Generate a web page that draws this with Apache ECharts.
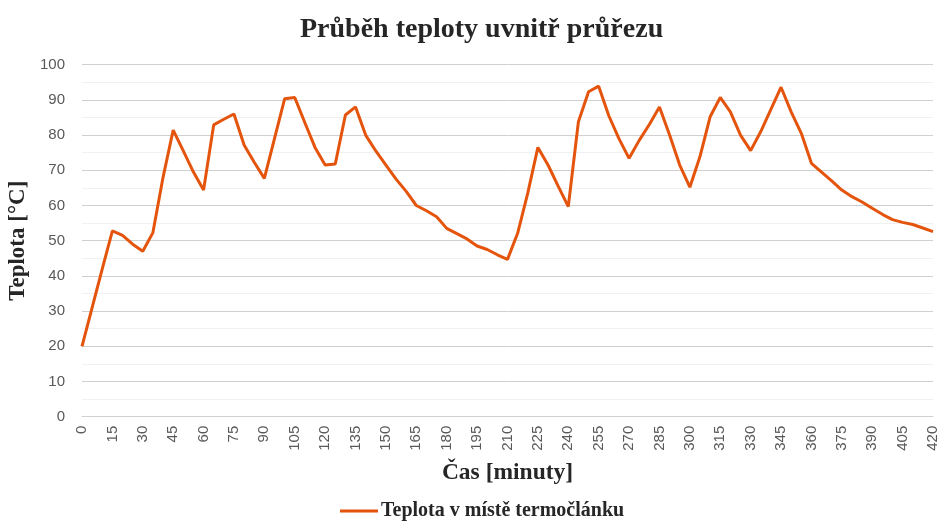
<!DOCTYPE html>
<html>
<head>
<meta charset="utf-8">
<script src="https://cdn.jsdelivr.net/npm/echarts@6/dist/echarts.min.js"></script>
<style>html,body{margin:0;padding:0;background:#fff}#c{width:938px;height:521px}</style>
</head>
<body>
<div id="c"></div>
<script>
const titleText = 'Průběh teploty uvnitř průřezu';
const seriesName = 'Teplota v místě termočlánku';
const minutes = ['0','5','10','15','20','25','30','35','40','45','50','55','60','65','70','75','80','85','90','95',
  '100','105','110','115','120','125','130','135','140','145','150','155','160','165','170','175','180','185','190','195',
  '200','205','210','215','220','225','230','235','240','245','250','255','260','265','270','275','280','285','290','295',
  '300','305','310','315','320','325','330','335','340','345','350','355','360','365','370','375','380','385','390','395',
  '400','405','410','415','420'];
const temps = [20,31,42,52.8,51.5,49,47,52.3,68,81.4,75.5,69.5,64.4,82.9,84.5,86,77.2,72.3,67.7,79,
  90.3,90.7,83.5,76.5,71.5,71.8,85.7,88,80,75.5,71.5,67.5,64,60,58.5,56.8,53.5,52,50.5,48.5,
  47.5,46,44.7,52.1,63.5,76.5,71.5,65.5,59.7,83.8,92.3,93.9,85.5,79,73.4,78.5,83,88,80,71.5,
  65.2,73.9,85.2,90.7,86.6,80,75.6,81,87.3,93.6,86.6,80.5,72,69.5,67,64.4,62.5,61,59.2,57.5,
  56,55.2,54.6,53.6,52.6];
const yTicks = [0,10,20,30,40,50,60,70,80,90,100];

const chart = echarts.init(document.getElementById('c'));
chart.setOption({
  animation: false,
  title: {
    text: titleText, left: 295, top: 11,
    textStyle: {fontFamily: 'Liberation Serif', fontWeight: 'bold', fontSize: 28, color: '#262626'}
  },
  legend: {
    top: 496, left: 335, itemWidth: 38, itemHeight: 3, itemGap: 10,
    icon: 'rect',
    textStyle: {fontFamily: 'Liberation Serif', fontWeight: 'bold', fontSize: 20, color: '#262626', padding: [0, 0, 0, -2]},
    data: [seriesName]
  },
  grid: {left: 82, right: 5, top: 64.7, bottom: 104.3, containLabel: false, outerBoundsMode: 'none'},
  xAxis: {
    type: 'category', data: minutes, boundaryGap: false,
    name: 'Čas [minuty]', nameLocation: 'middle', nameGap: 44,
    nameTextStyle: {fontFamily: 'Liberation Serif', fontWeight: 'bold', fontSize: 23.5, color: '#262626'},
    axisLine: {lineStyle: {color: '#d0d0d0'}},
    axisTick: {show: false},
    axisLabel: {interval: 2, rotate: 90, fontFamily: 'Liberation Sans', fontSize: 15, color: '#595959', margin: 9}
  },
  yAxis: {
    type: 'value', min: yTicks[0], max: yTicks[yTicks.length - 1], interval: 10,
    name: 'Teplota [°C]', nameLocation: 'middle', nameGap: 49, nameRotate: 90,
    nameTextStyle: {fontFamily: 'Liberation Serif', fontWeight: 'bold', fontSize: 23, color: '#262626'},
    axisLine: {show: false}, axisTick: {show: false},
    axisLabel: {fontFamily: 'Liberation Sans', fontSize: 15, color: '#595959', margin: 17},
    splitLine: {lineStyle: {color: '#d0d0d0', width: 1}},
    minorTick: {show: false, splitNumber: 2},
    minorSplitLine: {show: true, lineStyle: {color: '#f0f0f0', width: 1}}
  },
  series: [{
    name: seriesName, type: 'line', data: temps, symbol: 'none',
    lineStyle: {color: '#E4540C', width: 3}, itemStyle: {color: '#E4540C'}
  }]
});
</script>
</body>
</html>
